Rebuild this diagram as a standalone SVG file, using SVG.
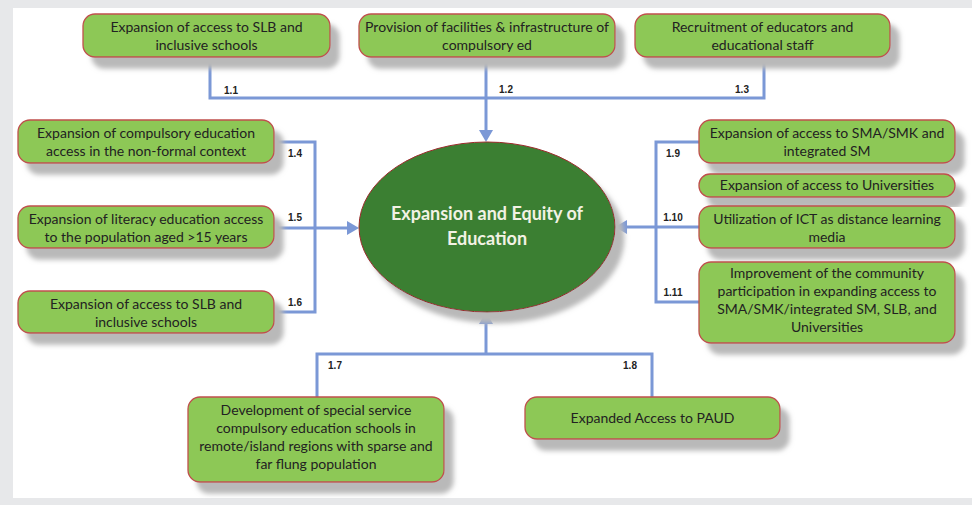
<svg xmlns="http://www.w3.org/2000/svg" width="972" height="505" viewBox="0 0 972 505">
<defs>
<filter id="sh" x="-10%" y="-20%" width="130%" height="160%">
<feGaussianBlur in="SourceAlpha" stdDeviation="2.5" result="b"/>
<feOffset in="b" dx="9" dy="11" result="o"/>
<feFlood flood-color="#b9b9b9"/>
<feComposite in2="o" operator="in" result="s"/>
<feMerge><feMergeNode in="s"/><feMergeNode in="SourceGraphic"/></feMerge>
</filter>
<marker id="arr" viewBox="0 0 12 14" refX="0" refY="7" markerWidth="12" markerHeight="14" markerUnits="userSpaceOnUse" orient="auto">
<path d="M0,0 L12,7 L0,14 z" fill="#7b98d6"/>
</marker>
<style>
.box{fill:#8dc857;stroke:#c0504d;stroke-width:1.3;filter:url(#sh)}
.t{font-family:Lato,"Liberation Sans",sans-serif;font-size:14px;fill:#222;text-anchor:middle}
.lb{font-family:"Liberation Sans",Arial,sans-serif;font-size:10px;font-weight:bold;fill:#222;text-anchor:middle}
.c{fill:none;stroke:#7b98d6;stroke-width:3}
.ct{font-family:Lato,"Liberation Sans",sans-serif;font-size:18px;font-weight:bold;fill:#f2f2e4;text-anchor:middle}
</style>
</defs>
<rect width="972" height="505" fill="#e7e8ea"/>
<rect x="13" y="8" width="959" height="490" fill="#ffffff"/>

<g id="connectors">
<path class="c" d="M210,57 V98 H764 V57"/>
<path class="c" d="M486,57 V130" marker-end="url(#arr)"/>
<path class="c" d="M274,142 H315 V312 H274"/>
<path class="c" d="M274,228 H347" marker-end="url(#arr)"/>
<path class="c" d="M699,142 H656 V302 H699"/>
<path class="c" d="M699,227 H627" marker-end="url(#arr)"/>
<path class="c" d="M317,397 V354 H652 V397"/>
<path class="c" d="M486,354 V324" marker-end="url(#arr)"/>
<text class="lb" x="231" y="94">1.1</text>
<text class="lb" x="506" y="93">1.2</text>
<text class="lb" x="742" y="93">1.3</text>
<text class="lb" x="295" y="157">1.4</text>
<text class="lb" x="295" y="221">1.5</text>
<text class="lb" x="295" y="306">1.6</text>
<text class="lb" x="335" y="369">1.7</text>
<text class="lb" x="630" y="369">1.8</text>
<text class="lb" x="673" y="157">1.9</text>
<text class="lb" x="673" y="221">1.10</text>
<text class="lb" x="673" y="296">1.11</text>
</g>

<g id="center">
<ellipse cx="487" cy="227" rx="128" ry="85" fill="#3a7f33" stroke="#9b2a2a" stroke-width="1" filter="url(#sh)"/>
<text class="ct" x="487" y="220">Expansion and Equity of</text>
<text class="ct" x="487" y="245">Education</text>
</g>

<g id="n1_1">
<rect class="box" x="83" y="14" width="247" height="43" rx="12"/>
<text class="t" x="206.5" y="32">Expansion of access to SLB and</text>
<text class="t" x="206.5" y="50">inclusive schools</text>
</g>
<g id="n1_2">
<rect class="box" x="359" y="14" width="256" height="43" rx="12"/>
<text class="t" x="487" y="32">Provision of facilities &amp; infrastructure of</text>
<text class="t" x="487" y="50">compulsory ed</text>
</g>
<g id="n1_3">
<rect class="box" x="635" y="14" width="255" height="43" rx="12"/>
<text class="t" x="762.5" y="32">Recruitment of educators and</text>
<text class="t" x="762.5" y="50">educational staff</text>
</g>
<g id="n1_4">
<rect class="box" x="18" y="120" width="256" height="43" rx="12"/>
<text class="t" x="146" y="138">Expansion of compulsory education</text>
<text class="t" x="146" y="156">access in the non-formal context</text>
</g>
<g id="n1_5">
<rect class="box" x="18" y="206" width="256" height="42" rx="12"/>
<text class="t" x="146" y="224">Expansion of literacy education access</text>
<text class="t" x="146" y="242">to the population aged &gt;15 years</text>
</g>
<g id="n1_6">
<rect class="box" x="18" y="291" width="256" height="42" rx="12"/>
<text class="t" x="146" y="309">Expansion of access to SLB and</text>
<text class="t" x="146" y="327">inclusive schools</text>
</g>
<g id="n1_9">
<rect class="box" x="699" y="120" width="256" height="43" rx="12"/>
<text class="t" x="827" y="138">Expansion of access to SMA/SMK and</text>
<text class="t" x="827" y="156">integrated SM</text>
</g>
<g id="n_univ">
<rect class="box" x="699" y="174" width="256" height="23" rx="11"/>
<text class="t" x="827" y="190">Expansion of access to Universities</text>
</g>
<g id="n1_10">
<rect class="box" x="699" y="206" width="256" height="42" rx="12"/>
<text class="t" x="827" y="224">Utilization of ICT as distance learning</text>
<text class="t" x="827" y="242">media</text>
</g>
<g id="n1_11">
<rect class="box" x="699" y="262" width="256" height="81" rx="12"/>
<text class="t" x="827" y="278">Improvement of the  community</text>
<text class="t" x="827" y="296">participation in expanding access to</text>
<text class="t" x="827" y="314">SMA/SMK/integrated SM, SLB, and</text>
<text class="t" x="827" y="332">Universities</text>
</g>
<g id="n1_7">
<rect class="box" x="188" y="397" width="256" height="85" rx="12"/>
<text class="t" x="316" y="415">Development of special service</text>
<text class="t" x="316" y="433">compulsory education schools in</text>
<text class="t" x="316" y="451">remote/island regions with sparse and</text>
<text class="t" x="316" y="469">far flung population</text>
</g>
<g id="n1_8">
<rect class="box" x="525" y="397" width="255" height="42" rx="12"/>
<text class="t" x="652.5" y="423">Expanded Access to PAUD</text>
</g>
</svg>
